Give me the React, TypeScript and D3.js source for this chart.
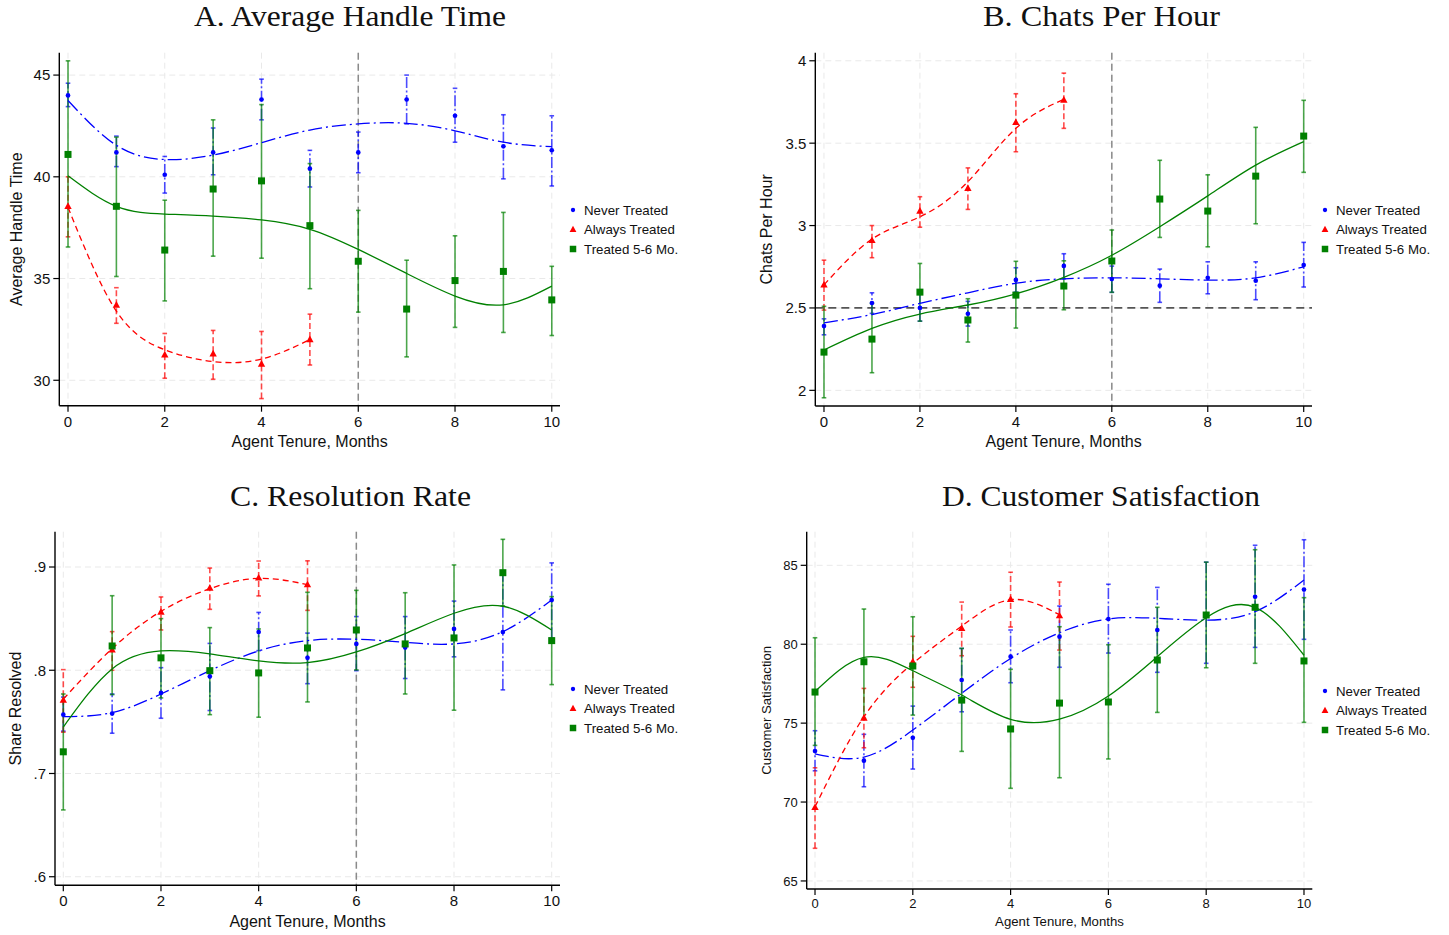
import React from 'react';
import * as d3 from 'd3';

const W = 1449;
const H = 935;
const SANS = '"Liberation Sans", Arial, Helvetica, sans-serif';
const SERIF = '"Liberation Serif", "Times New Roman", serif';
const BLUE = '#0000ff';
const RED = '#ff0000';
const GREEN = '#008000';

// ---------- shared categories ----------
const months = [0, 1, 2, 3, 4, 5, 6, 7, 8, 9, 10];
const monthsAlways = [0, 1, 2, 3, 4, 5];
const xTicks = [0, 2, 4, 6, 8, 10];
const legendLabels = ['Never Treated', 'Always Treated', 'Treated 5-6 Mo.'];

// ---------- A. Average Handle Time ----------
const ahtNeverEst = [44.0, 41.2, 40.1, 41.2, 43.8, 40.4, 41.2, 43.8, 43.0, 41.5, 41.3];
const ahtNeverLo = [43.45, 40.5, 39.2, 40.1, 42.8, 39.5, 40.2, 42.6, 41.7, 39.9, 39.55];
const ahtNeverHi = [44.6, 42.0, 41.0, 42.4, 44.8, 41.3, 42.2, 45.0, 44.35, 43.05, 43.0];
const ahtNeverFit = [43.75, 41.55, 40.85, 41.07, 41.68, 42.3, 42.6, 42.63, 42.26, 41.7, 41.48];
const ahtAlwaysEst = [38.55, 33.7, 31.25, 31.3, 30.8, 32.0];
const ahtAlwaysLo = [37.05, 32.8, 30.1, 30.05, 29.1, 30.75];
const ahtAlwaysHi = [40.0, 34.55, 32.3, 32.45, 32.4, 33.25];
const ahtAlwaysFit = [38.5, 33.4, 31.5, 30.92, 31.04, 32.0];
const ahtTreatedEst = [41.1, 38.55, 36.4, 39.4, 39.8, 37.6, 35.85, 33.5, 34.9, 35.35, 33.95];
const ahtTreatedLo = [36.55, 35.1, 33.9, 36.1, 36.0, 34.5, 33.35, 31.15, 32.6, 32.35, 32.2];
const ahtTreatedHi = [45.7, 41.95, 38.85, 42.8, 43.55, 40.65, 38.35, 35.9, 37.1, 38.25, 35.6];
const ahtTreatedFit = [40.05, 38.55, 38.17, 38.07, 37.88, 37.42, 36.43, 35.25, 34.14, 33.71, 34.63];
const ahtYTicks = [30, 35, 40, 45];

// ---------- B. Chats Per Hour ----------
const cphNeverEst = [2.39, 2.53, 2.5, 2.465, 2.67, 2.755, 2.675, 2.635, 2.683, 2.665, 2.76];
const cphNeverLo = [2.337, 2.467, 2.42, 2.39, 2.596, 2.677, 2.595, 2.534, 2.586, 2.55, 2.627];
const cphNeverHi = [2.434, 2.592, 2.59, 2.54, 2.744, 2.829, 2.754, 2.736, 2.78, 2.78, 2.898];
const cphNeverFit = [2.41, 2.46, 2.528, 2.592, 2.65, 2.677, 2.683, 2.677, 2.669, 2.683, 2.75];
const cphAlwaysEst = [2.64, 2.91, 3.088, 3.226, 3.626, 3.762];
const cphAlwaysLo = [2.487, 2.805, 2.99, 3.098, 3.448, 3.59];
const cphAlwaysHi = [2.79, 3.0, 3.175, 3.35, 3.8, 3.925];
const cphAlwaysFit = [2.64, 2.918, 3.053, 3.266, 3.59, 3.766];
const cphTreatedEst = [2.232, 2.311, 2.596, 2.427, 2.578, 2.633, 2.785, 3.161, 3.088, 3.3, 3.543];
const cphTreatedLo = [1.955, 2.107, 2.42, 2.293, 2.378, 2.489, 2.595, 2.928, 2.871, 3.011, 3.323];
const cphTreatedHi = [2.51, 2.528, 2.77, 2.556, 2.783, 2.786, 2.973, 3.396, 3.308, 3.596, 3.76];
const cphTreatedFit = [2.245, 2.376, 2.463, 2.518, 2.586, 2.686, 2.82, 2.993, 3.18, 3.367, 3.509];
const cphYTicks = [2, 2.5, 3, 3.5, 4];

// ---------- C. Resolution Rate ----------
const resNeverEst = [0.757, 0.758, 0.778, 0.794, 0.837, 0.812, 0.8255, 0.822, 0.84, 0.837, 0.868];
const resNeverLo = [0.741, 0.739, 0.7535, 0.761, 0.819, 0.787, 0.7996, 0.792, 0.813, 0.781, 0.831];
const resNeverHi = [0.774, 0.777, 0.8025, 0.826, 0.856, 0.836, 0.852, 0.852, 0.867, 0.894, 0.904];
const resNeverFit = [0.755, 0.759, 0.777, 0.7996, 0.8187, 0.8287, 0.83, 0.827, 0.8255, 0.8374, 0.868];
const resAlwaysEst = [0.771, 0.8197, 0.8564, 0.8797, 0.8894, 0.8829];
const resAlwaysLo = [0.74, 0.8, 0.839, 0.859, 0.872, 0.858];
const resAlwaysHi = [0.8006, 0.8374, 0.871, 0.899, 0.9058, 0.906];
const resAlwaysFit = [0.772, 0.821, 0.857, 0.879, 0.889, 0.883];
const resTreatedEst = [0.721, 0.8235, 0.812, 0.7996, 0.7974, 0.8216, 0.839, 0.8255, 0.8313, 0.8945, 0.8287];
const resTreatedLo = [0.6647, 0.7764, 0.7732, 0.757, 0.7545, 0.7693, 0.8003, 0.777, 0.7613, 0.8623, 0.7861];
const resTreatedHi = [0.777, 0.8722, 0.85, 0.8413, 0.84, 0.8755, 0.8774, 0.8751, 0.902, 0.9268, 0.8713];
const resTreatedFit = [0.745, 0.8013, 0.8187, 0.8158, 0.809, 0.8074, 0.8177, 0.8355, 0.8552, 0.862, 0.839];
const resYTicks = [0.6, 0.7, 0.8, 0.9];

// ---------- D. Customer Satisfaction ----------
const csatNeverEst = [73.23, 72.62, 74.07, 77.73, 79.21, 80.48, 81.6, 80.9, 81.85, 83.01, 83.46];
const csatNeverLo = [71.98, 70.97, 72.09, 75.72, 77.56, 78.54, 79.44, 78.22, 78.79, 79.8, 80.31];
const csatNeverHi = [74.52, 74.29, 76.08, 79.73, 80.9, 82.42, 83.8, 83.6, 85.2, 86.27, 86.62];
const csatNeverFit = [73.05, 72.85, 74.56, 76.89, 79.1, 80.73, 81.6, 81.64, 81.53, 82.06, 84.07];
const csatAlwaysEst = [69.66, 75.32, 78.89, 81.0, 82.85, 81.81];
const csatAlwaysLo = [67.07, 73.44, 77.27, 79.27, 81.09, 79.63];
const csatAlwaysHi = [72.17, 77.2, 80.5, 82.67, 84.56, 83.94];
const csatAlwaysFit = [69.7, 75.4, 78.78, 81.15, 82.82, 81.87];
const csatTreatedEst = [76.97, 78.89, 78.62, 76.46, 74.63, 76.27, 76.34, 79.0, 81.85, 82.34, 78.94];
const csatTreatedLo = [73.59, 75.3, 75.51, 73.21, 70.87, 71.54, 72.73, 75.68, 78.51, 78.79, 75.05];
const csatTreatedHi = [80.41, 82.23, 81.74, 79.74, 78.41, 81.11, 79.97, 82.34, 85.2, 85.99, 82.95];
const csatTreatedFit = [77.0, 79.17, 78.32, 76.78, 75.24, 75.25, 76.72, 79.21, 81.68, 82.34, 79.3];
const csatYTicks = [65, 70, 75, 80, 85];

type Series = {
  x: number[];
  est: number[];
  lo: number[];
  hi: number[];
  fit: number[];
  color: string;
  ciColor: string;
  ciDash: string;
  fitDash: string;
  marker: 'circle' | 'triangle' | 'square';
};

const mkSeries = (x: number[], est: number[], lo: number[], hi: number[], fit: number[], kind: number): Series => {
  if (kind === 0)
    return { x, est, lo, hi, fit, color: BLUE, ciColor: BLUE, ciDash: '11,2.5,2,2.5', fitDash: '14,4,2,4', marker: 'circle' };
  if (kind === 1)
    return { x, est, lo, hi, fit, color: RED, ciColor: RED, ciDash: '6,3', fitDash: '6,4', marker: 'triangle' };
  return { x, est, lo, hi, fit, color: GREEN, ciColor: GREEN, ciDash: '', fitDash: '', marker: 'square' };
};

type PanelCfg = {
  title: string;
  titleX: number;
  titleY: number;
  titleW: number;
  ylabel: string;
  left: number;
  right: number;
  top: number;
  bottom: number;
  xDomain: [number, number];
  yDomain: [number, number];
  yTicks: number[];
  yFmt: (v: number) => string;
  tickFont: number;
  labelFont: number;
  ylabelX: number;
  xlabelY: number;
  xtickY: number;
  legendX: number;
  legendY: number;
  legendStep: number;
  refX?: number;
  refY?: number;
  series: Series[];
};

const intFmt = (v: number) => String(v);
const decFmt = (v: number) => String(v).replace(/^0\./, '.');

const panels: PanelCfg[] = [
  {
    title: 'A. Average Handle Time', titleX: 350, titleY: 26, titleW: 312,
    ylabel: 'Average Handle Time',
    left: 59.3, right: 560, top: 52.7, bottom: 405.7,
    xDomain: [-0.18, 10.17], yDomain: [28.75, 46.1],
    yTicks: ahtYTicks, yFmt: intFmt, tickFont: 15, labelFont: 16,
    ylabelX: 21.5, xlabelY: 447, xtickY: 426.5,
    legendX: 573, legendY: 210, legendStep: 19.5,
    refX: 6,
    series: [
      mkSeries(months, ahtNeverEst, ahtNeverLo, ahtNeverHi, ahtNeverFit, 0),
      mkSeries(monthsAlways, ahtAlwaysEst, ahtAlwaysLo, ahtAlwaysHi, ahtAlwaysFit, 1),
      mkSeries(months, ahtTreatedEst, ahtTreatedLo, ahtTreatedHi, ahtTreatedFit, 2),
    ],
  },
  {
    title: 'B. Chats Per Hour', titleX: 1101.5, titleY: 26, titleW: 237,
    ylabel: 'Chats Per Hour',
    left: 815.3, right: 1312, top: 52.7, bottom: 406,
    xDomain: [-0.181, 10.173], yDomain: [1.905, 4.049],
    yTicks: cphYTicks, yFmt: intFmt, tickFont: 15, labelFont: 16,
    ylabelX: 772, xlabelY: 447, xtickY: 426.5,
    legendX: 1325, legendY: 210, legendStep: 19.5,
    refX: 6,
    refY: 2.5,
    series: [
      mkSeries(months, cphNeverEst, cphNeverLo, cphNeverHi, cphNeverFit, 0),
      mkSeries(monthsAlways, cphAlwaysEst, cphAlwaysLo, cphAlwaysHi, cphAlwaysFit, 1),
      mkSeries(months, cphTreatedEst, cphTreatedLo, cphTreatedHi, cphTreatedFit, 2),
    ],
  },
  {
    title: 'C. Resolution Rate', titleX: 350.5, titleY: 506, titleW: 241,
    ylabel: 'Share Resolved',
    left: 55, right: 560, top: 531.7, bottom: 885.3,
    xDomain: [-0.17, 10.17], yDomain: [0.5917, 0.9342],
    yTicks: resYTicks, yFmt: decFmt, tickFont: 15, labelFont: 16,
    ylabelX: 20.5, xlabelY: 926.5, xtickY: 906,
    legendX: 573, legendY: 689, legendStep: 19.5,
    refX: 6,
    series: [
      mkSeries(months, resNeverEst, resNeverLo, resNeverHi, resNeverFit, 0),
      mkSeries(monthsAlways, resAlwaysEst, resAlwaysLo, resAlwaysHi, resAlwaysFit, 1),
      mkSeries(months, resTreatedEst, resTreatedLo, resTreatedHi, resTreatedFit, 2),
    ],
  },
  {
    title: 'D. Customer Satisfaction', titleX: 1101, titleY: 506, titleW: 318,
    ylabel: 'Customer Satisfaction',
    left: 806.7, right: 1312.3, top: 531.7, bottom: 889,
    xDomain: [-0.17, 10.17], yDomain: [64.49, 87.13],
    yTicks: csatYTicks, yFmt: intFmt, tickFont: 13, labelFont: 13.2,
    ylabelX: 771, xlabelY: 926, xtickY: 908,
    legendX: 1325, legendY: 691, legendStep: 19.5,
    series: [
      mkSeries(months, csatNeverEst, csatNeverLo, csatNeverHi, csatNeverFit, 0),
      mkSeries(monthsAlways, csatAlwaysEst, csatAlwaysLo, csatAlwaysHi, csatAlwaysFit, 1),
      mkSeries(months, csatTreatedEst, csatTreatedLo, csatTreatedHi, csatTreatedFit, 2),
    ],
  },
];

function Marker({ kind, cx, cy, color, size }: { kind: string; cx: number; cy: number; color: string; size: number }) {
  if (kind === 'circle') return <circle cx={cx} cy={cy} r={size * 0.36} fill={color} />;
  if (kind === 'square')
    return <rect x={cx - size / 2} y={cy - size / 2} width={size} height={size} fill={color} />;
  const h = size * 0.95;
  const w = size * 1.05;
  return (
    <path
      d={`M${cx},${cy - h * 0.6} L${cx + w / 2},${cy + h * 0.4} L${cx - w / 2},${cy + h * 0.4} Z`}
      fill={color}
    />
  );
}

function Panel({ cfg }: { cfg: PanelCfg }) {
  const x = d3.scaleLinear().domain(cfg.xDomain).range([cfg.left, cfg.right]);
  const y = d3.scaleLinear().domain(cfg.yDomain).range([cfg.bottom, cfg.top]);
  const capW = 2.3;
  const line = (s: Series) =>
    d3
      .line<number>()
      .x((_, i) => x(s.x[i]))
      .y((v) => y(v))
      .curve(d3.curveNatural)(s.fit) || '';

  return (
    <g>
      {/* grid */}
      {cfg.yTicks.map((t) => (
        <line key={'gy' + t} x1={cfg.left} x2={cfg.right} y1={y(t)} y2={y(t)} stroke="#e9e9e9" strokeWidth={1} strokeDasharray="6,4" />
      ))}
      {xTicks.map((t) => (
        <line key={'gx' + t} x1={x(t)} x2={x(t)} y1={cfg.top} y2={cfg.bottom} stroke="#e9e9e9" strokeWidth={1} strokeDasharray="6,4" />
      ))}
      {/* reference lines */}
      {cfg.refX !== undefined && (
        <line x1={x(cfg.refX)} x2={x(cfg.refX)} y1={cfg.top} y2={cfg.bottom} stroke="#8a8a8a" strokeWidth={1.5} strokeDasharray="7,4" />
      )}
      {cfg.refY !== undefined && (
        <line x1={cfg.left} x2={cfg.right} y1={y(cfg.refY)} y2={y(cfg.refY)} stroke="#555" strokeWidth={1.7} strokeDasharray="8,5" />
      )}
      {/* confidence intervals */}
      {cfg.series.map((s, si) => (
        <g key={'ci' + si} stroke={s.ciColor} strokeOpacity={0.7} strokeWidth={1.6} fill="none">
          {s.x.map((m, i) => (
            <g key={i}>
              <line x1={x(m)} x2={x(m)} y1={y(s.lo[i])} y2={y(s.hi[i])} strokeDasharray={s.ciDash || undefined} />
              <line x1={x(m) - capW} x2={x(m) + capW} y1={y(s.lo[i])} y2={y(s.lo[i])} />
              <line x1={x(m) - capW} x2={x(m) + capW} y1={y(s.hi[i])} y2={y(s.hi[i])} />
            </g>
          ))}
        </g>
      ))}
      {/* fitted lines */}
      {cfg.series.map((s, si) => (
        <path key={'fit' + si} d={line(s)} fill="none" stroke={s.color} strokeWidth={1.3} strokeDasharray={s.fitDash || undefined} />
      ))}
      {/* markers */}
      {cfg.series.map((s, si) => (
        <g key={'mk' + si}>
          {s.x.map((m, i) => (
            <Marker key={i} kind={s.marker} cx={x(m)} cy={y(s.est[i])} color={s.color} size={s.marker === 'circle' ? 6.5 : 7} />
          ))}
        </g>
      ))}
      {/* axes */}
      <line x1={cfg.left} x2={cfg.left} y1={cfg.top} y2={cfg.bottom} stroke="#000" strokeWidth={1.4} />
      <line x1={cfg.left} x2={cfg.right} y1={cfg.bottom} y2={cfg.bottom} stroke="#000" strokeWidth={1.4} />
      {cfg.yTicks.map((t) => (
        <g key={'yt' + t}>
          <line x1={cfg.left - 6} x2={cfg.left} y1={y(t)} y2={y(t)} stroke="#000" strokeWidth={1.2} />
          <text x={cfg.left - 9} y={y(t) + cfg.tickFont * 0.36} textAnchor="end" fontFamily={SANS} fontSize={cfg.tickFont} fill="#111">
            {cfg.yFmt(t)}
          </text>
        </g>
      ))}
      {xTicks.map((t) => (
        <g key={'xt' + t}>
          <line x1={x(t)} x2={x(t)} y1={cfg.bottom} y2={cfg.bottom + 6} stroke="#000" strokeWidth={1.2} />
          <text x={x(t)} y={cfg.xtickY} textAnchor="middle" fontFamily={SANS} fontSize={cfg.tickFont} fill="#111">
            {t}
          </text>
        </g>
      ))}
      {/* axis titles */}
      <text x={(cfg.left + cfg.right) / 2} y={cfg.xlabelY} textAnchor="middle" fontFamily={SANS} fontSize={cfg.labelFont} fill="#111">
        Agent Tenure, Months
      </text>
      <text
        transform={`translate(${cfg.ylabelX},${(cfg.top + cfg.bottom) / 2}) rotate(-90)`}
        textAnchor="middle"
        fontFamily={SANS}
        fontSize={cfg.labelFont}
        fill="#111"
      >
        {cfg.ylabel}
      </text>
      {/* title */}
      <text
        x={cfg.titleX}
        y={cfg.titleY}
        textAnchor="middle"
        fontFamily={SERIF}
        fontSize={28.5}
        textLength={cfg.titleW}
        lengthAdjust="spacingAndGlyphs"
        fill="#111"
      >
        {cfg.title}
      </text>
      {/* legend */}
      {cfg.series.map((s, si) => (
        <g key={'lg' + si}>
          <Marker kind={s.marker} cx={cfg.legendX} cy={cfg.legendY + si * cfg.legendStep} color={s.color} size={s.marker === 'circle' ? 6 : 6.5} />
          <text
            x={cfg.legendX + 11}
            y={cfg.legendY + si * cfg.legendStep + 4.6}
            fontFamily={SANS}
            fontSize={13.3}
            fill="#111"
          >
            {legendLabels[si]}
          </text>
        </g>
      ))}
    </g>
  );
}

export default function App() {
  return (
    <svg
      width={W}
      height={H}
      viewBox={`0 0 ${W} ${H}`}
      style={{ position: 'absolute', left: 0, top: 0, background: '#fff', display: 'block' }}
    >
      <rect x={0} y={0} width={W} height={H} fill="#fff" />
      {panels.map((p, i) => (
        <Panel key={i} cfg={p} />
      ))}
    </svg>
  );
}
